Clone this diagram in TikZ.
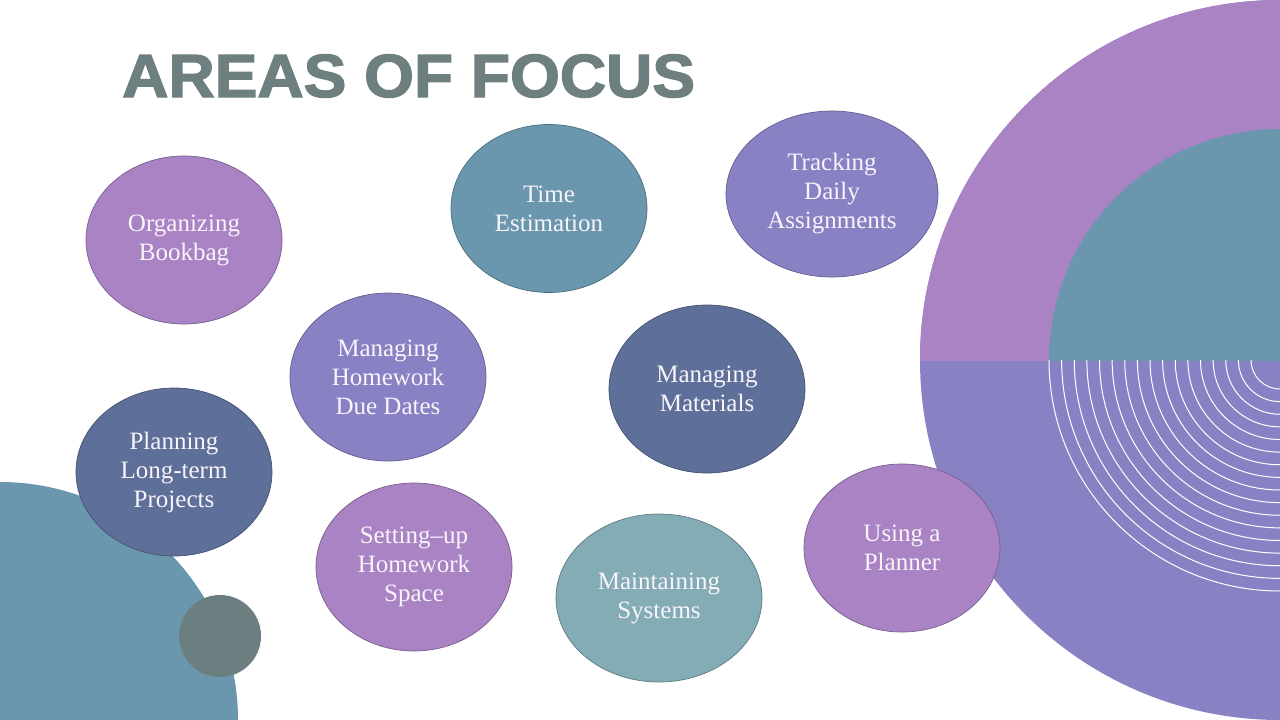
\documentclass[tikz,border=0pt]{standalone}
\usepackage{fontspec}
\usetikzlibrary{shapes.geometric}
\newfontfamily\titlefont[RawFeature={embolden=2.2}]{Liberation Sans}
\newfontfamily\bubblefont{Liberation Serif}
\definecolor{cPurple}{RGB}{169,131,196}
\definecolor{cViolet}{RGB}{136,130,196}
\definecolor{cTeal}{RGB}{106,151,174}
\definecolor{cSlate}{RGB}{94,112,153}
\definecolor{cLight}{RGB}{131,172,181}
\definecolor{cGray}{RGB}{107,127,128}
\definecolor{cTitle}{RGB}{110,127,128}
\definecolor{cText}{RGB}{248,244,250}
\tikzset{
  bubble/.style={ellipse, inner sep=0pt, minimum width=196pt, minimum height=168pt,
    fill=#1, draw=#1!72!black, line width=0.7pt, text=cText, align=center,
    font=\bubblefont\fontsize{25}{29}\selectfont},
  ring/.style={draw=white, line width=1pt}
}
\begin{document}
\begin{tikzpicture}[x=1pt,y=-1pt]
\useasboundingbox (0,0) rectangle (1280,720);
\fill[white] (0,0) rectangle (1280,720);
\begin{scope}
  \clip (0,0) rectangle (1280,720);
  % big right circle
  \fill[cViolet] (1280,360) circle[radius=360];
  \begin{scope}
    \clip (900,0) rectangle (1280,360);
    \fill[cPurple] (1280,360) circle[radius=360];
    \fill[cTeal] (1280,360) circle[radius=231];
  \end{scope}
  \begin{scope}
    \clip (1000,360) rectangle (1280,720);
    \foreach \i in {0,...,16}
      \draw[ring] (1280,360) circle[radius={29+12.625*\i}];
  \end{scope}
  % bottom-left circles
  \fill[cTeal] (0,720) circle[radius=238];
  \fill[cGray] (220,636) circle[radius=41];
\end{scope}

\node[anchor=base west, text=cTitle, inner sep=0pt, xscale=1.05,
      font=\titlefont\bfseries\fontsize{61}{61}\selectfont] (title) at (122,97) {AREAS OF FOCUS};

\node[bubble=cPurple] (bookbag) at (184,240) {Organizing\\Bookbag};
\node[bubble=cTeal] (time) at (549,208.5) {Time\\Estimation};
\node[bubble=cViolet, minimum width=212pt, minimum height=166pt] (tracking) at (832,194) {Tracking\\Daily\\Assignments};
\node[bubble=cViolet] (duedates) at (388,377) {Managing\\Homework\\Due Dates};
\node[bubble=cSlate] (materials) at (707,389) {Managing\\Materials};
\node[bubble=cSlate] (projects) at (174,472) {Planning\\Long-term\\Projects};
\node[bubble=cPurple] (space) at (414,567) {Setting–up\\Homework\\Space};
\node[bubble=cLight, minimum width=206pt] (systems) at (659,598) {Maintaining\\Systems};
\node[bubble=cPurple] (planner) at (902,548) {Using a\\Planner};
\end{tikzpicture}
\end{document}
